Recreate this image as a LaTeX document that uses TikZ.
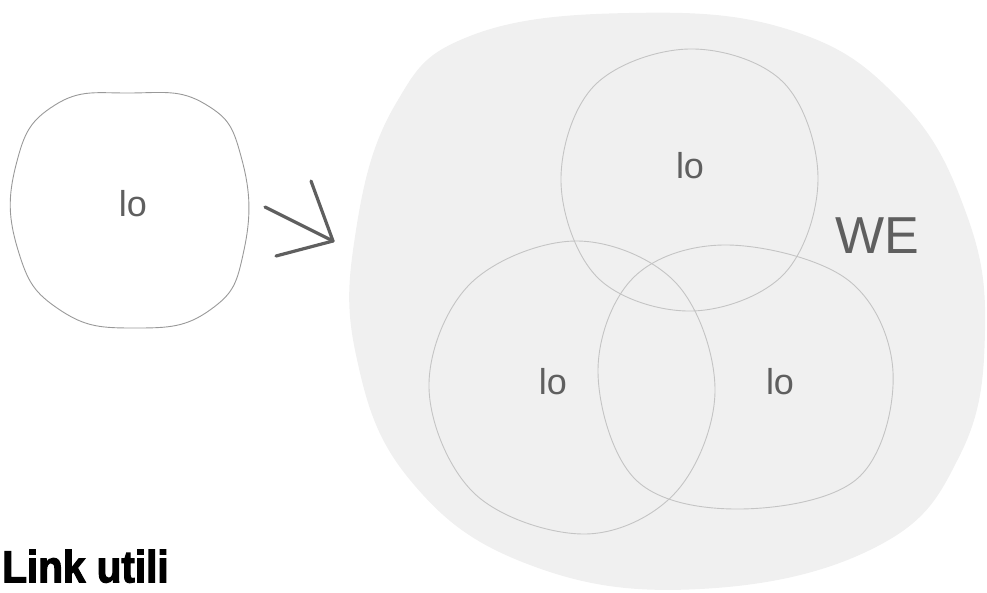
\documentclass[tikz,border=0pt]{standalone}
\usepackage{fontspec}
\setmainfont{Liberation Sans}
\newfontfamily\linkfont[FakeBold=2.5,FakeStretch=0.9]{Liberation Sans Bold}
\usepackage{tikz}
\usetikzlibrary{calc}
\definecolor{blobgray}{HTML}{F0F0F0}
\definecolor{ringgray}{HTML}{C4C4C4}
\definecolor{textgray}{HTML}{5F5F5F}
\tikzset{
  ring/.style={draw=ringgray,line width=0.9pt},
  iolabel/.style={text=textgray,font=\fontsize{36}{38}\selectfont,inner sep=0pt},
}

\begin{document}
\begin{tikzpicture}[x=1pt,y=-1pt]
  \useasboundingbox (0,0) rectangle (987,592);

  % big shaded region
  \fill[blobgray] plot[smooth cycle,tension=0.7] coordinates {
    (470,36) (629,13) (790,30) (900,100) (965,210) (985,330) (960,455)
    (876,547) (700,589) (530,565) (410,480) (356,355) (356,230) (395,105)};

  % single ring on the left
  \draw[draw=black!40,line width=0.9pt] plot[smooth cycle,tension=0.8] coordinates {
    (130,93) (205,104) (242,160) (244,250) (210,310) (135,328)
    (60,310) (18,250) (16,165) (55,105)};
  \node[iolabel] (io0) at (133,204) {lo};

  % hand drawn arrow
  \coordinate (tip) at (333,241);
  \draw[textgray,line width=3.2pt,line cap=round] (265,207) -- (tip);
  \draw[textgray,line width=3.2pt,line cap=round] (311,181) -- (tip);
  \draw[textgray,line width=3.2pt,line cap=round] (276,256) -- (tip);

  % three overlapping rings
  \draw[ring] plot[smooth cycle,tension=0.6] coordinates {
    (689,49) (783,82) (818,178) (784,274) (692,311) (598,278) (561,182) (594,86)};
  \draw[ring] plot[smooth cycle,tension=0.6] coordinates {
    (576,241) (676,283) (715,390) (676,492) (585,534) (475,494) (429,388) (470,284)};
  \draw[ring] plot[smooth cycle,tension=0.6] coordinates {
    (728,245) (848,280) (893,372) (858,478) (740,509) (636,480) (598,372) (634,277)};

  \node[iolabel] (io1) at (690,166) {lo};
  \node[iolabel] (io2) at (553,382) {lo};
  \node[iolabel] (io3) at (780,382) {lo};
  \node[text=textgray,font=\fontsize{52}{54}\selectfont,inner sep=0pt] (we) at (877,236) {WE};

  \node[anchor=south west,inner sep=0pt,font=\linkfont\fontsize{45}{47}\selectfont] (links) at (2,583) {Link utili};
\end{tikzpicture}
\end{document}
